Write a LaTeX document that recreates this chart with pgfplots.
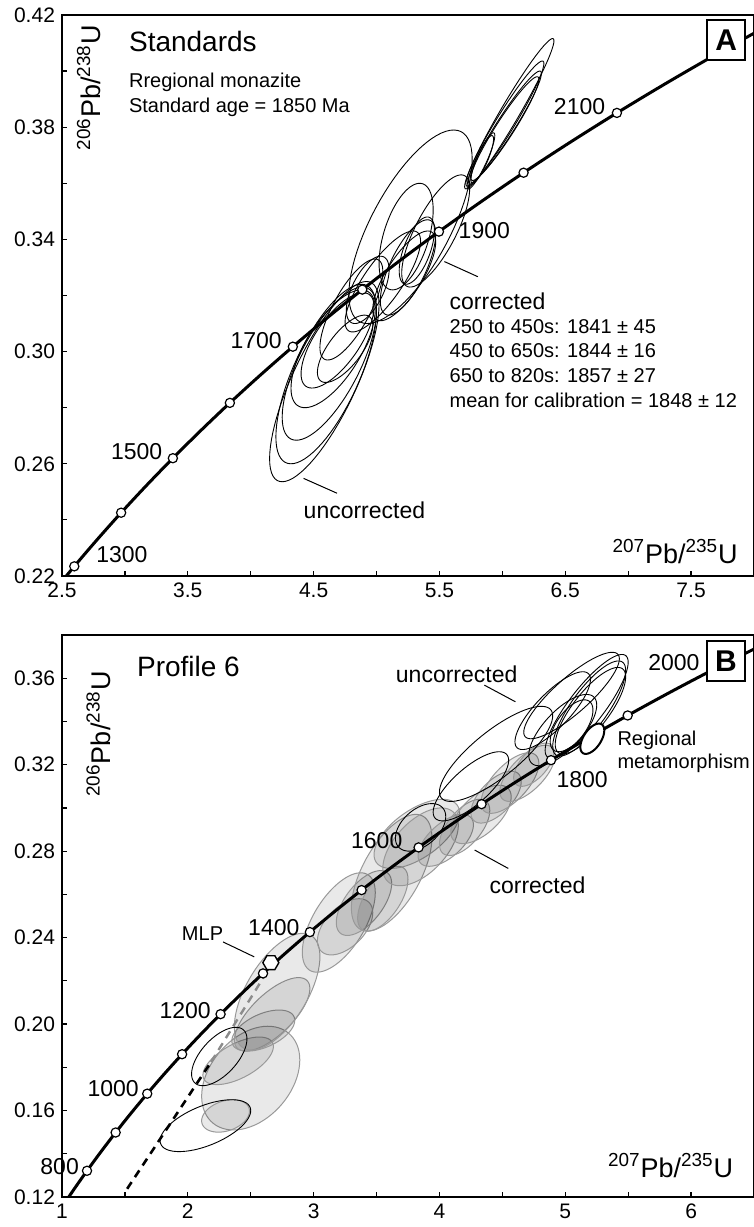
\documentclass[border=0pt]{standalone}
\usepackage{fontspec}
\setmainfont{Liberation Sans}
\usepackage{pgfplots}
\usepackage{pgfplotstable}
\pgfplotsset{compat=1.18}

\newcommand\titlefont{\fontsize{14}{16}\selectfont}
\newcommand\agefont{\fontsize{11.5}{13}\selectfont}
\newcommand\smallfont{\fontsize{10}{12}\selectfont}
\newcommand\axfont{\fontsize{13.5}{15}\selectfont}
\newcommand\boxfont{\bfseries\fontsize{15}{17}\selectfont}

\pgfdeclareplotmark{hexagon}{%
  \pgfpathmoveto{\pgfpointpolar{0}{\pgfplotmarksize}}%
  \pgfpathlineto{\pgfpointpolar{60}{\pgfplotmarksize}}%
  \pgfpathlineto{\pgfpointpolar{120}{\pgfplotmarksize}}%
  \pgfpathlineto{\pgfpointpolar{180}{\pgfplotmarksize}}%
  \pgfpathlineto{\pgfpointpolar{240}{\pgfplotmarksize}}%
  \pgfpathlineto{\pgfpointpolar{300}{\pgfplotmarksize}}%
  \pgfpathclose\pgfusepathqfillstroke}

% concordia, 207Pb/235U vs 206Pb/238U, 50 Ma steps
\pgfplotstableread{
t x y
1200 2.2603 0.20460
1250 2.4249 0.21398
1300 2.5977 0.22344
1350 2.7793 0.23296
1400 2.9700 0.24256
1450 3.1705 0.25224
1500 3.3812 0.26199
1550 3.6021 0.27181
1600 3.8343 0.28172
1650 4.0784 0.29170
1700 4.3346 0.30175
1750 4.6040 0.31189
1800 4.8868 0.32210
1850 5.1840 0.33240
1900 5.4960 0.34277
1950 5.8241 0.35323
2000 6.1686 0.36377
2050 6.5304 0.37438
2100 6.9105 0.38509
2150 7.3097 0.39587
2200 7.7292 0.40674
2250 8.1699 0.41769
}\concA

\pgfplotstableread{
t x y
700 0.9925 0.11470
750 1.0931 0.12338
800 1.1988 0.13213
850 1.3097 0.14094
900 1.4264 0.14983
950 1.5488 0.15878
1000 1.6774 0.16780
1050 1.8126 0.17690
1100 1.9545 0.18606
1150 2.1036 0.19530
1200 2.2603 0.20460
1250 2.4249 0.21398
1300 2.5977 0.22344
1350 2.7793 0.23296
1400 2.9700 0.24256
1450 3.1705 0.25224
1500 3.3812 0.26199
1550 3.6021 0.27181
1600 3.8343 0.28172
1650 4.0784 0.29170
1700 4.3346 0.30175
1750 4.6040 0.31189
1800 4.8868 0.32210
1850 5.1840 0.33240
1900 5.4960 0.34277
1950 5.8241 0.35323
2000 6.1686 0.36377
2050 6.5304 0.37438
}\concB

% error ellipses: centre, half widths, correlation
\pgfplotstableread{
cx cy sx sy rho
6.055 0.3848 0.355 0.0268 0.97
6.02 0.3813 0.31 0.0223 0.96
6.02 0.3800 0.29 0.0200 0.955
6.02 0.3795 0.27 0.0185 0.95
5.83 0.3680 0.11 0.0100 0.90
5.84 0.3685 0.09 0.0085 0.85
5.27 0.3445 0.49 0.0345 0.70
5.235 0.3410 0.215 0.0190 0.50
5.47 0.3430 0.27 0.0200 0.75
5.32 0.3360 0.14 0.0120 0.60
5.25 0.3300 0.22 0.0170 0.70
5.22 0.3270 0.25 0.0160 0.75
4.93 0.3220 0.17 0.0120 0.60
5.05 0.3250 0.30 0.0180 0.80
4.80 0.3150 0.25 0.0180 0.75
4.585 0.2893 0.435 0.0357 0.77
4.60 0.2920 0.40 0.0320 0.70
4.625 0.2957 0.375 0.0273 0.70
4.655 0.3010 0.335 0.0210 0.67
4.69 0.3040 0.29 0.0170 0.70
4.75 0.3010 0.22 0.0120 0.70
}\ellipsesA

\pgfplotstableread{
cx cy sx sy rho
2.50 0.1750 0.39 0.0240 0.35
2.30 0.1575 0.19 0.0075 0.30
2.40 0.1830 0.28 0.0110 0.60
2.60 0.1970 0.25 0.0095 0.50
2.67 0.2045 0.30 0.0170 0.70
2.71 0.2150 0.34 0.0270 0.60
3.20 0.2470 0.29 0.0230 0.60
3.25 0.2450 0.22 0.0130 0.50
3.40 0.2560 0.22 0.0150 0.60
3.62 0.2700 0.32 0.0270 0.60
3.55 0.2580 0.20 0.0150 0.60
3.82 0.2880 0.34 0.0160 0.60
3.85 0.2820 0.30 0.0180 0.55
4.05 0.2850 0.22 0.0120 0.60
4.20 0.2910 0.20 0.0130 0.60
4.33 0.2970 0.24 0.0135 0.60
4.45 0.3050 0.20 0.0120 0.60
4.56 0.3115 0.23 0.0140 0.65
4.70 0.3160 0.22 0.0130 0.65
4.75 0.3200 0.16 0.0100 0.60
}\ellipsesBcor

\pgfplotstableread{
cx cy sx sy rho
5.17 0.3470 0.33 0.0240 0.85
5.19 0.3460 0.29 0.0220 0.80
5.20 0.3450 0.28 0.0200 0.78
5.05 0.3520 0.38 0.0200 0.85
4.90 0.3450 0.30 0.0180 0.80
5.05 0.3380 0.17 0.0120 0.60
4.98 0.3360 0.27 0.0165 0.70
4.45 0.3250 0.45 0.0220 0.80
4.25 0.3100 0.30 0.0160 0.75
3.85 0.2910 0.20 0.0110 0.45
2.25 0.1850 0.22 0.0135 0.60
2.14 0.1530 0.36 0.0120 0.58
}\ellipsesBunc

\newcommand\drawellipses[2]{%
  \pgfplotstablegetrowsof{#1}%
  \pgfmathtruncatemacro\nrows{\pgfplotsretval-1}%
  \pgfplotsforeachungrouped \i in {0,...,\nrows}{%
    \pgfplotstablegetelem{\i}{cx}\of#1\let\ecx\pgfplotsretval
    \pgfplotstablegetelem{\i}{cy}\of#1\let\ecy\pgfplotsretval
    \pgfplotstablegetelem{\i}{sx}\of#1\let\esx\pgfplotsretval
    \pgfplotstablegetelem{\i}{sy}\of#1\let\esy\pgfplotsretval
    \pgfplotstablegetelem{\i}{rho}\of#1\let\erho\pgfplotsretval
    \edef\doplot{\noexpand\addplot[#2,domain=0:360,samples=73]
      ({\ecx+\esx*cos(x)},{\ecy+\esy*(\erho*cos(x)+sqrt(1-\erho^2)*sin(x))});}%
    \doplot
  }%
}

\pgfplotsset{
  concaxis/.style={
    scale only axis,
    width=346pt,
    clip mode=individual,
    axis line style={line width=0.9pt},
    tick align=inside,
    tick pos=left,
    major tick length=2.5pt,
    minor tick length=2.5pt,
    every tick/.style={black, line width=0.6pt},
    tick label style={font=\fontsize{10.5}{12}\selectfont},
    /pgf/number format/assume math mode=true,
    yticklabel style={/pgf/number format/.cd, fixed, fixed zerofill, precision=2},
  },
  ellA/.style={black, line width=0.45pt},
  ellBg/.style={draw=black!40, line width=0.5pt, fill=black, fill opacity=0.085},
  ellBk/.style={black, line width=0.45pt},
  conc/.style={black, line width=1.5pt, smooth},
  agemark/.style={only marks, mark=*, mark size=2.3pt,
    mark options={fill=white, draw=black, line width=0.6pt}},
}

\begin{document}
\begin{tikzpicture}
\path[use as bounding box] (-31pt,-15pt) rectangle (346pt,598.5pt);

% ---------------- panel A
\begin{axis}[
    concaxis,
    at={(0pt,310.5pt)},
    height=280.5pt,
    xmin=2.5, xmax=8,
    ymin=0.22, ymax=0.42,
    xtick={2.5,3.5,...,7.5},
    minor xtick={3,4,...,7},
    ytick={0.22,0.26,...,0.43},
    minor ytick={0.24,0.28,...,0.41},
    xticklabel style={/pgf/number format/.cd, fixed, fixed zerofill, precision=1},
]
\drawellipses{\ellipsesA}{ellA}
\addplot[conc] table[x=x, y=y] {\concA};
\addplot[agemark] coordinates {(2.5977,0.22344) (2.9700,0.24256) (3.3812,0.26199)
  (3.8343,0.28172) (4.3346,0.30175) (4.8868,0.32210) (5.4960,0.34277)
  (6.1686,0.36377) (6.9105,0.38509) (7.7292,0.40674)};

\node[anchor=west, inner sep=0, font=\titlefont] at (axis cs:3.03,0.4107) {Standards};
\node[anchor=west, inner sep=0, font=\smallfont] at (axis cs:3.03,0.3961) {Rregional monazite};
\node[anchor=west, inner sep=0, font=\smallfont] at (axis cs:3.03,0.3872) {Standard age = 1850 Ma};
\node[rotate=90, inner sep=0, font=\axfont] at (axis cs:2.713,0.394) {\textsuperscript{206}Pb/\textsuperscript{238}U};
\node[anchor=east, inner sep=0, font=\axfont] at (axis cs:7.873,0.2287) {\textsuperscript{207}Pb/\textsuperscript{235}U};

\node[anchor=east, inner sep=0, font=\agefont] at (axis cs:6.82,0.3872) {2100};
\node[anchor=west, inner sep=0, font=\agefont] at (axis cs:5.65,0.3433) {1900};
\node[anchor=east, inner sep=0, font=\agefont] at (axis cs:4.25,0.3038) {1700};
\node[anchor=east, inner sep=0, font=\agefont] at (axis cs:3.30,0.2643) {1500};
\node[anchor=west, inner sep=0, font=\agefont] at (axis cs:2.77,0.2275) {1300};

\node[anchor=west, inner sep=0, font=\agefont] at (axis cs:5.578,0.3178) {corrected};
\node[anchor=west, inner sep=0, font=\smallfont] at (axis cs:5.578,0.3089) {250 to 450s: 1841 ± 45};
\node[anchor=west, inner sep=0, font=\smallfont] at (axis cs:5.578,0.3002) {450 to 650s: 1844 ± 16};
\node[anchor=west, inner sep=0, font=\smallfont] at (axis cs:5.578,0.2914) {650 to 820s: 1857 ± 27};
\node[anchor=west, inner sep=0, font=\smallfont] at (axis cs:5.578,0.2827) {mean for calibration = 1848 ± 12};
\draw[line width=0.5pt] (axis cs:5.539,0.3321) -- (axis cs:5.805,0.3267);
\node[anchor=west, inner sep=0, font=\agefont] at (axis cs:4.418,0.2435) {uncorrected};
\draw[line width=0.5pt] (axis cs:4.42,0.2548) -- (axis cs:4.686,0.2495);

\node[draw, line width=1pt, fill=white, minimum width=19pt, minimum height=20pt,
  inner sep=0, font=\boxfont] at (axis cs:7.78,0.4111) {A};
\end{axis}

% ---------------- panel B
\begin{axis}[
    concaxis,
    at={(0pt,0pt)},
    height=281pt,
    xmin=1, xmax=6.5,
    ymin=0.12, ymax=0.38,
    xtick={1,2,...,6},
    minor xtick={1.5,2.5,...,6},
    ytick={0.12,0.16,...,0.37},
    minor ytick={0.14,0.18,...,0.38},
]
\drawellipses{\ellipsesBcor}{ellBg}
\drawellipses{\ellipsesBunc}{ellBk}
\addplot[black, line width=1.3pt, dash pattern=on 4pt off 3pt] coordinates {(1.518,0.1238) (2.185,0.1825)};
\addplot[black!45, line width=1.2pt, dash pattern=on 4pt off 3pt] coordinates {(2.185,0.1825) (2.604,0.2218)};
\addplot[conc] table[x=x, y=y] {\concB};
\addplot[agemark] coordinates {(1.1988,0.13213) (1.4264,0.14983) (1.6774,0.16780)
  (1.9545,0.18606) (2.2603,0.20460) (2.5977,0.22344) (2.9700,0.24256)
  (3.3812,0.26199) (3.8343,0.28172) (4.3346,0.30175) (4.8868,0.32210)
  (5.4960,0.34277) (6.1686,0.36377)};
\addplot[black, line width=1pt, fill=white, domain=0:360, samples=73]
  ({5.215+0.095*cos(x)},{0.332+0.007*(0.55*cos(x)+sqrt(1-0.55^2)*sin(x))});
\addplot[only marks, mark=hexagon, mark size=4pt,
  mark options={fill=white, draw=black, line width=0.7pt}] coordinates {(2.66,0.2284)};

\node[anchor=west, inner sep=0, font=\titlefont] at (axis cs:1.594,0.3653) {Profile 6};
\node[rotate=90, inner sep=0, font=\axfont] at (axis cs:1.29,0.3342) {\textsuperscript{206}Pb/\textsuperscript{238}U};
\node[anchor=east, inner sep=0, font=\axfont] at (axis cs:6.337,0.1346) {\textsuperscript{207}Pb/\textsuperscript{235}U};

\node[anchor=east, inner sep=0, font=\agefont] at (axis cs:6.07,0.3674) {2000};
\node[anchor=west, inner sep=0, font=\agefont] at (axis cs:4.928,0.3129) {1800};
\node[anchor=east, inner sep=0, font=\agefont] at (axis cs:3.708,0.2851) {1600};
\node[anchor=east, inner sep=0, font=\agefont] at (axis cs:2.89,0.2445) {1400};
\node[anchor=east, inner sep=0, font=\agefont] at (axis cs:2.185,0.2064) {1200};
\node[anchor=east, inner sep=0, font=\agefont] at (axis cs:1.613,0.1701) {1000};
\node[anchor=east, inner sep=0, font=\agefont] at (axis cs:1.137,0.1339) {800};

\node[anchor=west, inner sep=0, font=\agefont] at (axis cs:3.651,0.362) {uncorrected};
\draw[line width=0.5pt] (axis cs:4.357,0.3568) -- (axis cs:4.604,0.3491);
\node[anchor=west, inner sep=0, font=\agefont] at (axis cs:4.395,0.2643) {corrected};
\draw[line width=0.5pt] (axis cs:4.28,0.2805) -- (axis cs:4.547,0.272);
\node[anchor=west, inner sep=0, font=\smallfont] at (axis cs:5.412,0.3314) {Regional};
\node[anchor=west, inner sep=0, font=\smallfont] at (axis cs:5.412,0.3206) {metamorphism};
\node[inner sep=0, font=\smallfont] at (axis cs:2.117,0.2419) {MLP};
\draw[line width=0.5pt] (axis cs:2.28,0.238) -- (axis cs:2.528,0.2311);

\node[draw, line width=1pt, fill=white, minimum width=19pt, minimum height=20pt,
  inner sep=0, font=\boxfont] at (axis cs:6.277,0.3678) {B};
\end{axis}
\end{tikzpicture}
\end{document}
